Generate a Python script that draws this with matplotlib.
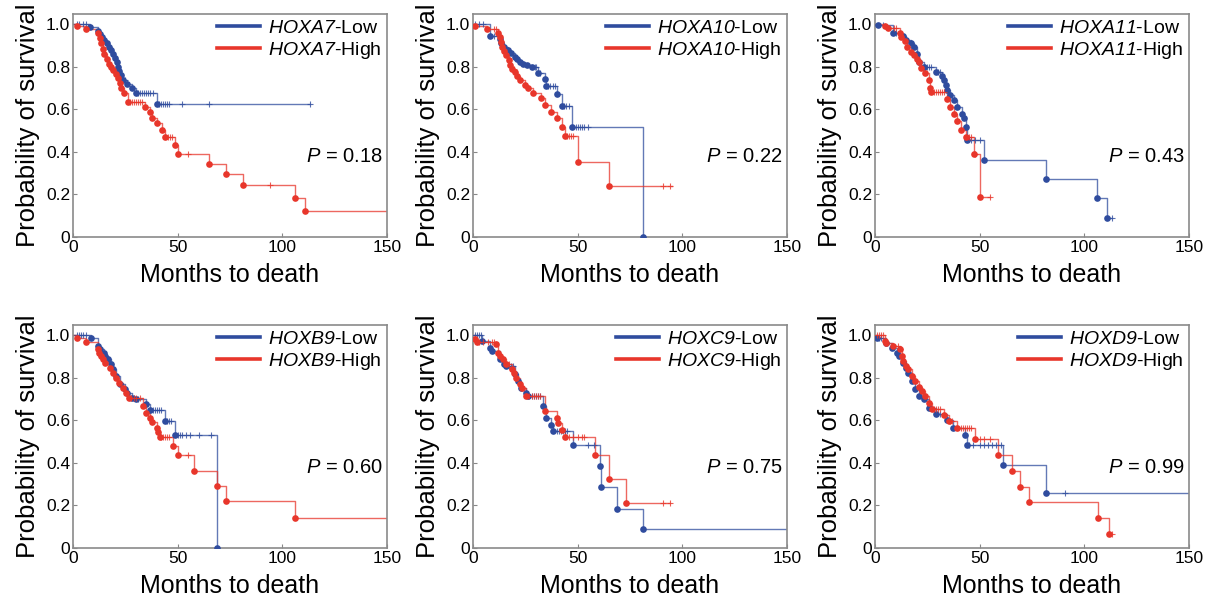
import numpy as np
import matplotlib
matplotlib.use("Agg")
import matplotlib.pyplot as plt

plt.rcParams["font.family"] = ["Liberation Sans", "DejaVu Sans"]
plt.rcParams["mathtext.fontset"] = "custom"
plt.rcParams["mathtext.sf"] = "Liberation Sans:italic"
plt.rcParams["mathtext.rm"] = "Liberation Sans"

# event times (months), survival after each event, censor times
a7_low_t = [8, 12, 13, 14, 15, 16, 17, 18, 19, 20, 21, 21.5, 22, 23, 24, 26, 28, 30, 40]
a7_low_s = [0.985, 0.97, 0.955, 0.94, 0.925, 0.91, 0.895, 0.88, 0.86, 0.84, 0.82, 0.80, 0.78, 0.76, 0.74, 0.72, 0.70, 0.675, 0.625]
a7_low_c = [2, 3, 5, 6, 25, 31, 32, 33, 34, 35, 36, 37, 38, 41, 42, 43, 44, 45, 46, 52, 65, 113]
a7_high_t = [2, 6, 12, 12.8, 13.5, 14.4, 15, 16, 17, 18, 19, 20.7, 21.5, 22.3, 23, 24.5, 26.3, 34.6, 37, 37.5, 40, 42.3, 44, 48.6, 50, 65, 73, 81, 106, 111]
a7_high_s = [0.99, 0.975, 0.958, 0.935, 0.91, 0.885, 0.86, 0.835, 0.815, 0.80, 0.785, 0.765, 0.745, 0.725, 0.70, 0.675, 0.636, 0.612, 0.585, 0.56, 0.534, 0.505, 0.47, 0.43, 0.39, 0.342, 0.294, 0.246, 0.185, 0.122]
a7_high_c = [27, 28, 29, 30, 31, 32, 33, 45.5, 46.5, 47.5, 55, 94]

a10_low_t = [8, 13, 13.6, 15, 16.5, 18, 20, 21, 22.5, 24, 26, 28, 31, 34.3, 35, 40, 42.6, 47.5, 81]
a10_low_s = [0.945, 0.93, 0.91, 0.895, 0.88, 0.865, 0.848, 0.835, 0.824, 0.815, 0.81, 0.80, 0.772, 0.741, 0.71, 0.67, 0.617, 0.518, 0.0]
a10_low_c = [1, 3, 5, 10, 29.5, 30, 32, 36, 37, 38, 39, 43.5, 44.5, 46, 49, 50, 51, 52, 53, 55]
a10_high_t = [1, 6.5, 12, 12.7, 13.3, 14, 15, 16, 17, 17.5, 18.5, 20, 21, 22.5, 24.7, 26.5, 28.7, 32.7, 34.6, 37.2, 40, 42.3, 44, 50.2, 65]
a10_high_s = [0.99, 0.976, 0.96, 0.94, 0.915, 0.895, 0.875, 0.855, 0.83, 0.81, 0.79, 0.775, 0.755, 0.738, 0.714, 0.70, 0.678, 0.651, 0.62, 0.589, 0.557, 0.518, 0.474, 0.353, 0.239]
a10_high_c = [10, 11, 19.5, 45, 46, 47, 48, 91, 94]

a11_low_t = [1.3, 8.8, 13.3, 15, 17, 18.5, 20, 21, 23.3, 29, 32, 33, 33.7, 34.5, 36, 37.7, 39, 41.7, 42.5, 43.3, 44, 52, 81.5, 106, 111]
a11_low_s = [0.995, 0.96, 0.945, 0.925, 0.91, 0.895, 0.86, 0.82, 0.80, 0.775, 0.757, 0.738, 0.714, 0.69, 0.667, 0.644, 0.612, 0.58, 0.557, 0.518, 0.455, 0.364, 0.272, 0.185, 0.091]
a11_low_c = [4, 10, 24, 25, 26, 27, 30, 31, 46, 48, 50, 113]
a11_high_t = [4.8, 6, 12, 12.5, 14.4, 15.5, 17, 18.5, 20, 21, 22, 24, 25.7, 26.5, 27, 34.5, 36, 37.7, 39.3, 41, 43.7, 47.3, 50]
a11_high_s = [0.99, 0.98, 0.957, 0.94, 0.92, 0.895, 0.87, 0.855, 0.835, 0.82, 0.795, 0.77, 0.738, 0.70, 0.683, 0.647, 0.612, 0.58, 0.546, 0.502, 0.468, 0.39, 0.19]
a11_high_c = [9, 10, 28, 29, 30, 31, 32, 33, 45, 46, 48, 55]

b9_low_t = [8.8, 12, 13, 14.7, 15.5, 16.7, 18, 19, 20.5, 22.6, 24.7, 26, 28, 30, 35, 37, 44, 48.6, 69]
b9_low_s = [0.985, 0.95, 0.934, 0.918, 0.90, 0.887, 0.863, 0.84, 0.81, 0.77, 0.746, 0.73, 0.706, 0.698, 0.675, 0.647, 0.597, 0.529, 0.0]
b9_low_c = [2, 3, 4, 5, 6, 29, 31, 38, 39, 40, 41, 42, 45, 46, 47, 50, 51, 52, 54, 56, 60, 66]
b9_high_t = [2, 6, 12, 12.5, 13.6, 14.5, 15.5, 17.5, 19, 20.7, 22, 24, 25.3, 26.8, 33.5, 35, 36.7, 37.5, 40, 40.8, 41.5, 47.8, 50, 58, 69, 73, 106]
b9_high_s = [0.985, 0.97, 0.934, 0.918, 0.90, 0.887, 0.871, 0.848, 0.824, 0.80, 0.777, 0.754, 0.73, 0.706, 0.667, 0.636, 0.612, 0.592, 0.565, 0.545, 0.523, 0.479, 0.436, 0.361, 0.29, 0.22, 0.141]
b9_high_c = [27.5, 29, 30, 32, 42, 43, 44, 45, 46, 55]

c9_low_t = [4.5, 8, 9, 12.8, 15, 16, 20, 21.5, 23, 25.5, 26.5, 33.5, 35, 37.5, 38.3, 47.8, 60.6, 61, 69, 81]
c9_low_s = [0.973, 0.942, 0.926, 0.887, 0.863, 0.855, 0.816, 0.785, 0.754, 0.73, 0.714, 0.667, 0.612, 0.58, 0.55, 0.482, 0.385, 0.286, 0.185, 0.09]
c9_low_c = [1, 2, 3, 4, 17, 18, 19, 28, 29, 30, 31, 32, 40, 41, 42, 43, 44, 45, 55, 58]
c9_high_t = [1, 2, 11, 12, 13, 14.4, 16, 18.8, 19.5, 20.7, 22.3, 23.5, 25.5, 34.3, 40, 40.5, 42.7, 43.9, 58.2, 65, 73]
c9_high_s = [0.98, 0.97, 0.958, 0.918, 0.90, 0.887, 0.863, 0.84, 0.824, 0.80, 0.77, 0.754, 0.714, 0.644, 0.612, 0.589, 0.553, 0.521, 0.435, 0.322, 0.212]
c9_high_c = [3, 5, 7, 9, 10, 17, 27, 28, 29, 30, 31, 32, 46, 48, 50, 52, 53, 91, 94]

d9_low_t = [0.8, 5.3, 8, 10.4, 11.5, 13.6, 14.8, 16, 17.7, 19.3, 21, 23.3, 25.7, 29.4, 34.5, 37.4, 42.9, 44, 61.3, 81.5]
d9_low_s = [0.985, 0.965, 0.942, 0.918, 0.903, 0.871, 0.848, 0.824, 0.785, 0.746, 0.714, 0.698, 0.66, 0.628, 0.601, 0.565, 0.529, 0.484, 0.388, 0.259]
d9_low_c = [2, 3, 27, 31, 45, 47, 50, 52, 54, 56, 58, 60, 91]
d9_high_t = [4.8, 5.5, 8.8, 12, 12.8, 13.6, 14.8, 16, 17.5, 19.3, 21, 22.5, 24, 25.7, 27.3, 33, 35.5, 39.3, 48, 58.6, 65.5, 69.3, 73.4, 106.4, 111.6]
d9_high_s = [0.973, 0.965, 0.95, 0.934, 0.903, 0.88, 0.855, 0.84, 0.808, 0.785, 0.758, 0.738, 0.714, 0.683, 0.651, 0.625, 0.596, 0.565, 0.51, 0.435, 0.361, 0.287, 0.215, 0.141, 0.066]
d9_high_c = [1, 2, 3, 4, 11, 12, 28, 29, 30, 31, 36, 37, 41, 42, 43, 44, 45, 46, 50, 52, 55, 113]

genes = ["HOXA7", "HOXA10", "HOXA11", "HOXB9", "HOXC9", "HOXD9"]
p_values = ["0.18", "0.22", "0.43", "0.60", "0.75", "0.99"]
# last follow-up time of each curve
low_end = [113, 81, 113, 69, 150, 150]
high_end = [150, 95, 55, 150, 94, 113]

low_curves = [(a7_low_t, a7_low_s, a7_low_c), (a10_low_t, a10_low_s, a10_low_c),
              (a11_low_t, a11_low_s, a11_low_c), (b9_low_t, b9_low_s, b9_low_c),
              (c9_low_t, c9_low_s, c9_low_c), (d9_low_t, d9_low_s, d9_low_c)]
high_curves = [(a7_high_t, a7_high_s, a7_high_c), (a10_high_t, a10_high_s, a10_high_c),
               (a11_high_t, a11_high_s, a11_high_c), (b9_high_t, b9_high_s, b9_high_c),
               (c9_high_t, c9_high_s, c9_high_c), (d9_high_t, d9_high_s, d9_high_c)]

BLUE = "#2f4c9e"
RED = "#e8362b"


def km_curve(ax, ev_t, ev_s, cens, end, color, label):
    t = np.concatenate([[0], ev_t, [end]])
    s = np.concatenate([[1.0], ev_s, [ev_s[-1]]])
    ax.step(t, s, where="post", color=color, lw=1.0, alpha=0.75, zorder=2)
    ax.plot(ev_t, ev_s, "o", ms=4.8, color=color, mec="none", zorder=3)
    cens = np.asarray(cens, dtype=float)
    cy = s[np.searchsorted(t, cens, side="right") - 1]
    ax.plot(cens, cy, "+", ms=5, mew=0.8, color=color, alpha=0.8, zorder=3)
    # legend handle (thicker line)
    ax.plot([], [], color=color, lw=2.6, label=label)


fig = plt.figure(figsize=(12.05, 6.04), dpi=100)
lefts = [0.0606, 0.3925, 0.7261]
bottoms = [0.6076, 0.0927]

for i, gene in enumerate(genes):
    row, col = divmod(i, 3)
    ax = fig.add_axes([lefts[col], bottoms[row], 0.2606, 0.370])
    lt, ls, lc = low_curves[i]
    ht, hs, hc = high_curves[i]
    km_curve(ax, lt, ls, lc, low_end[i], BLUE, r"$\mathsf{%s}$-Low" % gene)
    km_curve(ax, ht, hs, hc, high_end[i], RED, r"$\mathsf{%s}$-High" % gene)

    ax.set_xlim(0, 150)
    ax.set_ylim(0, 1.05)
    ax.set_xticks([0, 50, 100, 150])
    ax.set_yticks([0, 0.2, 0.4, 0.6, 0.8, 1.0])
    ax.set_yticklabels(["0", "0.2", "0.4", "0.6", "0.8", "1.0"])
    ax.tick_params(direction="in", length=3, width=0.8, color="#888888",
                   labelsize=12.5, pad=2)
    for sp in ax.spines.values():
        sp.set_color("#8a8a8a")
        sp.set_linewidth(1.2)
    ax.set_xlabel("Months to death", fontsize=18, labelpad=6)
    ax.set_ylabel("Probability of survival", fontsize=18.5, labelpad=4)
    ax.text(148, 0.38, r"$\mathsf{P}$ = " + p_values[i], ha="right", va="center",
            fontsize=14.5)
    ax.legend(loc="upper right", frameon=False, fontsize=14, handlelength=2.2,
              handletextpad=0.4, labelspacing=0.15, borderaxespad=0.1,
              borderpad=0.2)

fig.savefig("out.png", dpi=100)
